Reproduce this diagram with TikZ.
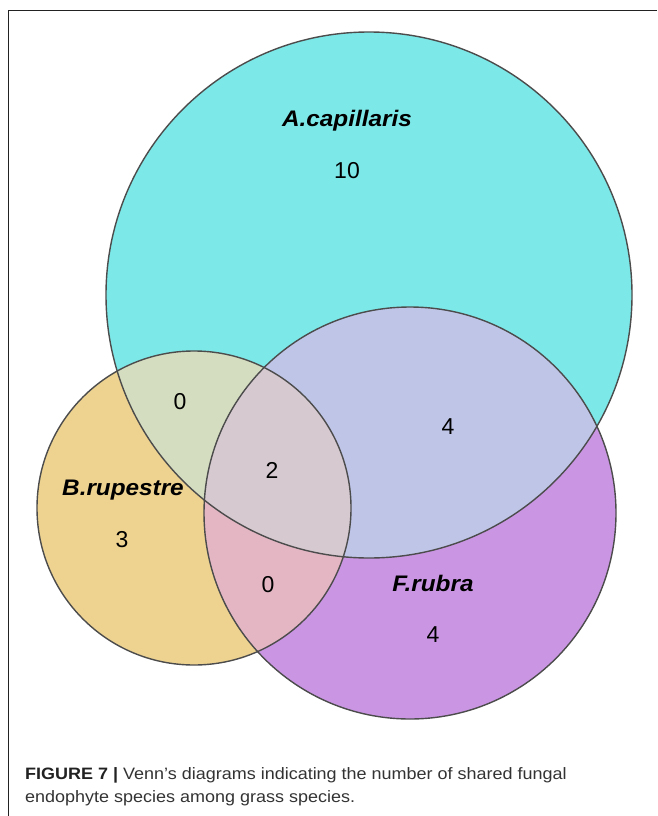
\documentclass[tikz,border=0pt]{standalone}
\usepackage{fontspec}
\setmainfont{Liberation Sans}
\newfontfamily\capfont[FakeStretch=1.09]{Liberation Sans}
\newfontfamily\labfont[FakeStretch=1.08]{Liberation Sans}
\definecolor{cA}{HTML}{7DE8E8}
\definecolor{cB}{HTML}{EDD290}
\definecolor{cF}{HTML}{CA96E4}
\definecolor{cAB}{HTML}{D4DDC0}
\definecolor{cAF}{HTML}{BFC5E7}
\definecolor{cBF}{HTML}{E4B6C4}
\definecolor{cABF}{HTML}{D6C9D0}
\definecolor{edge}{HTML}{4C4C4C}
\definecolor{frame}{HTML}{222222}
\definecolor{captxt}{HTML}{333333}
\tikzset{
  setlabel/.style={font=\labfont\fontsize{22.5}{24}\selectfont\bfseries\itshape, text=black},
  count/.style={font=\fontsize{23}{24}\selectfont, text=black},
  outline/.style={draw=edge, line width=1.4pt},
  capline/.style={anchor=base west, inner sep=0pt, text=captxt, font=\capfont\fontsize{16.5}{18}\selectfont}
}
\begin{document}
\begin{tikzpicture}[x=1pt,y=-1pt]
\useasboundingbox (0,0) rectangle (657,816);
\def\circA{(369,295) circle[radius=263pt]}
\def\circB{(194,508) circle[radius=157pt]}
\def\circF{(410,513) circle[radius=206pt]}
% base fills
\fill[cA] \circA;
\fill[cB] \circB;
\fill[cF] \circF;
% pairwise overlaps
\begin{scope}\clip \circA; \fill[cAB] \circB; \fill[cAF] \circF;\end{scope}
\begin{scope}\clip \circB; \fill[cBF] \circF;\end{scope}
\begin{scope}\clip \circA; \clip \circB; \fill[cABF] \circF;\end{scope}
% outlines
\draw[outline] \circA;
\draw[outline] \circB;
\draw[outline] \circF;
% labels
\node[setlabel] (la) at (347,121) {A.capillaris};
\node[count] (na) at (347,171) {10};
\node[count] (nab) at (180,402) {0};
\node[count] (naf) at (448,427) {4};
\node[count] (nabf) at (272,470) {2};
\node[setlabel] (lb) at (123,490) {B.rupestre};
\node[count] (nb) at (122,540) {3};
\node[count] (nbf) at (268,585) {0};
\node[setlabel] (lf) at (433,583) {F.rubra};
\node[count] (nf) at (433,635) {4};
% frame
\draw[frame, line width=1.2pt] (8.5,816) -- (8.5,10.5) -- (657,10.5);
% caption
\node[capline] (cap1) at (25,779) {\textbf{\color{frame}FIGURE 7 |} Venn’s diagrams indicating the number of shared fungal};
\node[capline] (cap2) at (25,802) {endophyte species among grass species.};
\end{tikzpicture}
\end{document}
